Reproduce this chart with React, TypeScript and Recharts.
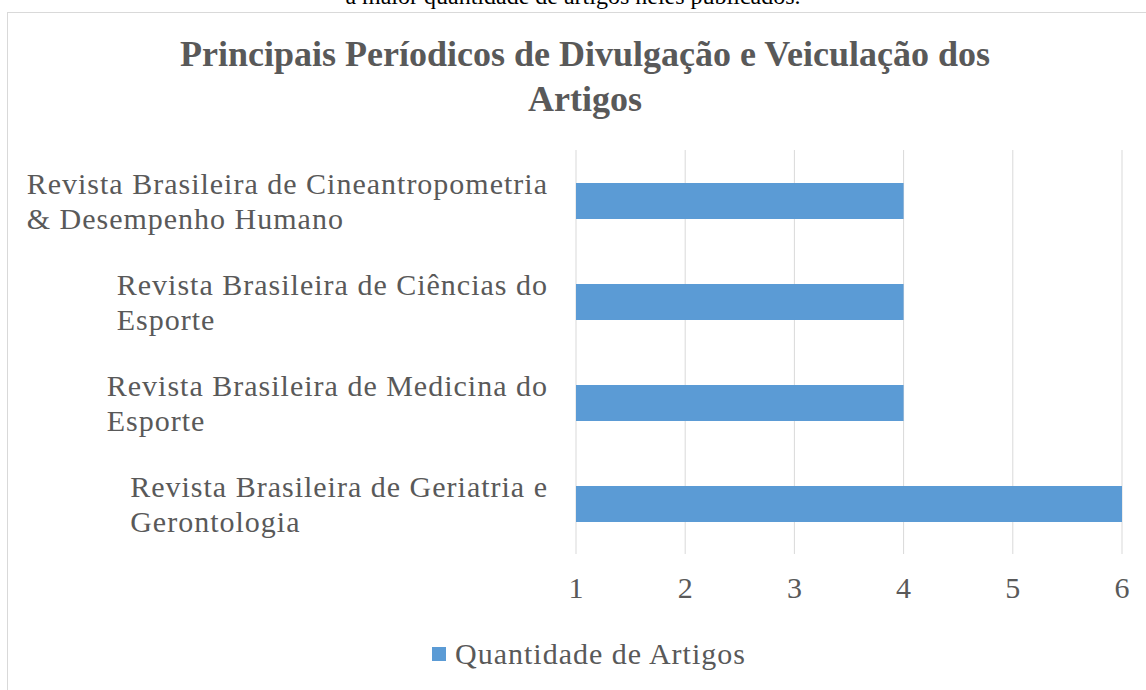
import React from 'react';
import { BarChart, Bar, XAxis, YAxis, CartesianGrid } from 'recharts';

// journal names, split where the reference wraps them
const journals = [
  'Revista Brasileira de Cineantropometria\n& Desempenho Humano',
  'Revista Brasileira de Ciências do\nEsporte',
  'Revista Brasileira de Medicina do\nEsporte',
  'Revista Brasileira de Geriatria e\nGerontologia',
];
const articleCounts = [4, 4, 4, 6];
const xTicks = [1, 2, 3, 4, 5, 6];

const seriesName = 'Quantidade de Artigos';
const chartTitle = ['Principais Períodicos de Divulgação e Veiculação dos', 'Artigos'];

const data = journals.map((name, i) => ({ name, value: articleCounts[i] }));

const TEXT = '#595959';
const GRID = '#d9d9d9';
const BLUE = '#5B9BD5';
const SERIF = "'Liberation Serif', 'Times New Roman', serif";
const LABEL_SIZE = 30;
const LABEL_SPACING = 1;
const LABEL_LINE = 35;

const measureCtx: any =
  typeof document !== 'undefined' ? document.createElement('canvas').getContext('2d') : null;

const CategoryTick = (props: any) => {
  const { x, y, payload } = props;
  const lines = String(payload.value).split('\n');
  let w = 0;
  if (measureCtx) {
    measureCtx.font = `${LABEL_SIZE}px ${SERIF}`;
    measureCtx.letterSpacing = `${LABEL_SPACING}px`;
    w = Math.max(...lines.map((l) => measureCtx.measureText(l).width));
  }
  const startX = x - w;
  const top = y - ((lines.length - 1) * LABEL_LINE) / 2;
  return (
    <text
      fill={TEXT}
      fontFamily={SERIF}
      fontSize={LABEL_SIZE}
      letterSpacing={LABEL_SPACING}
      dominantBaseline="central"
    >
      {lines.map((l, i) => (
        <tspan key={i} x={startX} y={top + i * LABEL_LINE}>
          {l}
        </tspan>
      ))}
    </text>
  );
};

export default function App() {
  return (
    <div
      style={{
        position: 'absolute',
        left: 0,
        top: 0,
        width: 1146,
        height: 690,
        overflow: 'hidden',
        background: '#fff',
        fontFamily: SERIF,
      }}
    >
      {/* tail of the document paragraph above the chart */}
      <div
        style={{
          position: 'absolute',
          top: -17,
          left: 0,
          width: 1146,
          textAlign: 'center',
          fontSize: 24,
          color: '#000',
        }}
      >
        a maior quantidade de artigos neles publicados.
      </div>

      {/* chart frame */}
      <div
        style={{
          position: 'absolute',
          left: 7,
          top: 12,
          width: 1160,
          height: 700,
          border: `1px solid ${GRID}`,
          boxSizing: 'border-box',
        }}
      />

      <div
        style={{
          position: 'absolute',
          top: 32,
          left: 24,
          width: 1122,
          textAlign: 'center',
          color: TEXT,
          fontWeight: 'bold',
          fontSize: 36,
          lineHeight: '45px',
        }}
      >
        {chartTitle.map((t) => (
          <div key={t}>{t}</div>
        ))}
      </div>

      <div style={{ position: 'absolute', left: 0, top: 0 }}>
        <BarChart
          width={1146}
          height={690}
          data={data}
          layout="vertical"
          margin={{ top: 150, right: 24, left: 0, bottom: 96 }}
        >
          <CartesianGrid horizontal={false} stroke={GRID} />
          <XAxis
            type="number"
            domain={[1, 6]}
            ticks={xTicks}
            axisLine={false}
            tickLine={false}
            tickSize={0}
            tickMargin={23}
            height={40}
            tick={{ fill: TEXT, fontSize: LABEL_SIZE, fontFamily: SERIF }}
          />
          <YAxis
            type="category"
            dataKey="name"
            width={576}
            axisLine={false}
            tickLine={false}
            tickSize={0}
            tickMargin={28}
            tick={<CategoryTick />}
          />
          <Bar dataKey="value" name={seriesName} fill={BLUE} barSize={36} isAnimationActive={false} />
        </BarChart>
      </div>

      {/* legend */}
      <div
        style={{
          position: 'absolute',
          left: 432,
          top: 637,
          display: 'flex',
          alignItems: 'center',
          color: TEXT,
          fontSize: LABEL_SIZE,
          letterSpacing: LABEL_SPACING,
        }}
      >
        <span style={{ width: 14, height: 14, background: BLUE, marginRight: 9, display: 'inline-block' }} />
        <span>{seriesName}</span>
      </div>
    </div>
  );
}
